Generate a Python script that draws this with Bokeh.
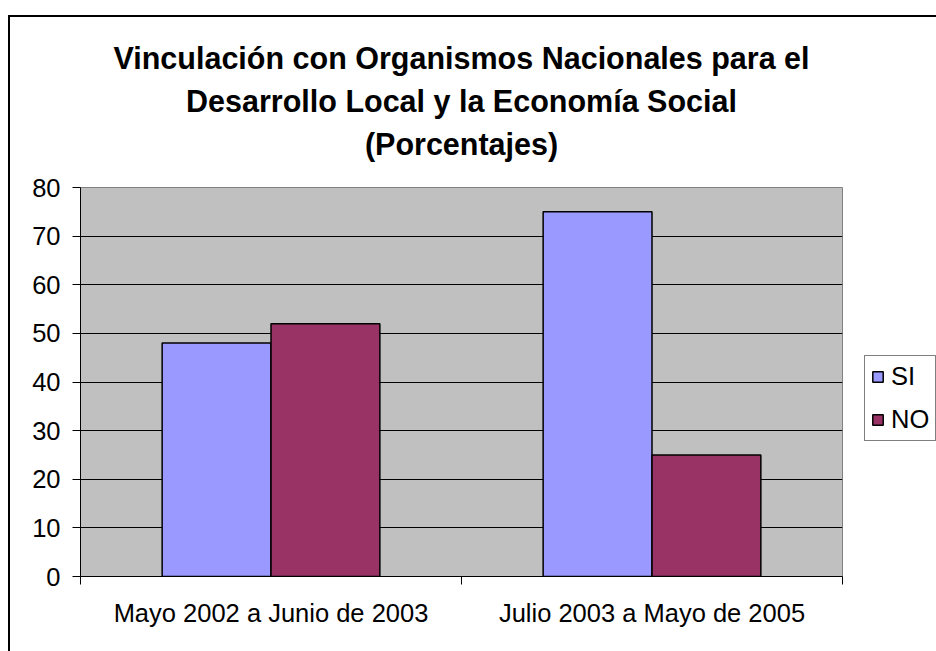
from bokeh.plotting import figure
from bokeh.models import FixedTicker, Legend, LegendItem, Title, Range1d
from bokeh.embed import file_html
from bokeh.resources import INLINE

# ---- data ----
categories = ["Mayo 2002 a Junio de 2003", "Julio 2003 a Mayo de 2005"]
series_names = ["SI", "NO"]
si_values = [48, 75]
no_values = [52, 25]
y_ticks = [0, 10, 20, 30, 40, 50, 60, 70, 80]
title_lines = ["Vinculación con Organismos Nacionales para el",
               "Desarrollo Local y la Economía Social",
               "(Porcentajes)"]
colors = ["#9999FF", "#993366"]

FONT = "Liberation Sans"
n = len(categories)
bar_w = 1 / 3.5  # Excel gap width 150%
centers = [i + 0.5 for i in range(n)]
si_x = [c - bar_w / 2 for c in centers]
no_x = [c + bar_w / 2 for c in centers]

p = figure(frame_width=762, frame_height=389, x_range=Range1d(0, n), y_range=Range1d(0, 80),
           output_backend="svg", toolbar_location=None, title_location=None,
           min_border_left=70, min_border_right=94, min_border_top=170, min_border_bottom=75)
p.styles = {"margin-left": "8px", "margin-top": "15px",
            "border-left": "2px solid black", "border-top": "2px solid black"}

p.background_fill_color = "#C0C0C0"
p.border_fill_color = "white"
p.outline_line_color = "#808080"
p.outline_line_width = 1

r_si = p.vbar(x=si_x, top=si_values, width=bar_w, bottom=0,
              fill_color=colors[0], line_color="black", line_width=1.5)
r_no = p.vbar(x=no_x, top=no_values, width=bar_w, bottom=0,
              fill_color=colors[1], line_color="black", line_width=1.5)

# axes
xa = p.xaxis[0]
xa.ticker = FixedTicker(ticks=centers, minor_ticks=list(range(n + 1)))
xa.major_label_overrides = {c: lab for c, lab in zip(centers, categories)}
xa.major_tick_line_color = None
xa.major_tick_out = 0
xa.major_tick_in = 0
xa.minor_tick_out = 8
xa.minor_tick_in = 0
xa.minor_tick_line_color = "black"
xa.axis_line_color = "black"
xa.major_label_text_font = FONT
xa.major_label_text_font_size = "25.5px"
xa.major_label_text_color = "black"
xa.major_label_standoff = 14

ya = p.yaxis[0]
ya.ticker = FixedTicker(ticks=y_ticks, minor_ticks=[])
ya.major_tick_out = 8
ya.major_tick_in = 0
ya.major_tick_line_color = "black"
ya.axis_line_color = "black"
ya.major_label_text_font = FONT
ya.major_label_text_font_size = "25.5px"
ya.major_label_text_color = "black"
ya.major_label_standoff = 12

p.xgrid.visible = False
p.ygrid.ticker = FixedTicker(ticks=y_ticks[1:-1])
p.ygrid.grid_line_color = "black"
p.ygrid.grid_line_width = 1

# spacer between title block and plot area
p.add_layout(Title(text=" ", text_font=FONT, text_font_size="19px", standoff=0), "above")
# titles (added bottom-most first)
for line in reversed(title_lines):
    p.add_layout(Title(text=line, align="center", text_font=FONT, text_font_size="30.5px",
                       text_font_style="bold", text_color="black", standoff=7), "above")

legend = Legend(items=[LegendItem(label=series_names[0], renderers=[r_si]),
                       LegendItem(label=series_names[1], renderers=[r_no])],
                location=(22, 135), orientation="vertical",
                label_text_font=FONT, label_text_font_size="25.5px", label_text_color="black",
                glyph_width=13, glyph_height=13, label_standoff=7,
                padding=6, spacing=14, margin=0,
                border_line_color="black", border_line_width=1,
                background_fill_color="white", background_fill_alpha=1)
p.add_layout(legend, "right")

open("out.html", "w").write(file_html(p, INLINE))
